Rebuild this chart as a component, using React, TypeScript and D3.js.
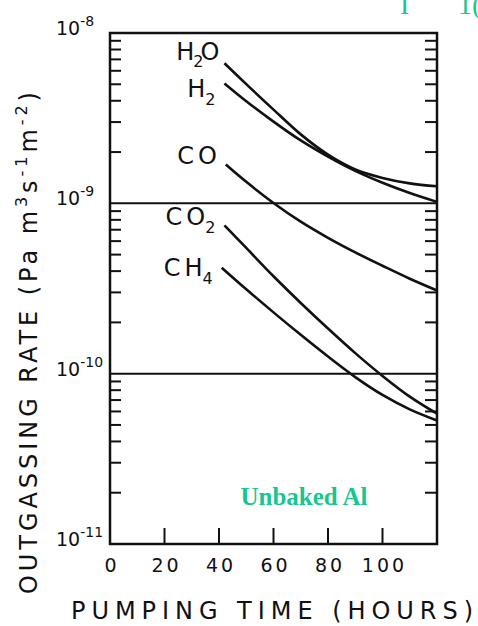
import * as d3 from 'd3';

// hours of pumping / outgassing rate (Pa m3 s-1 m-2)
const h2oHours = [42, 50, 60, 70, 80, 90, 100, 110, 120];
const h2oRate = [6.64e-9, 5.01e-9, 3.55e-9, 2.54e-9, 1.93e-9, 1.58e-9, 1.41e-9, 1.31e-9, 1.26e-9];
const h2Hours = [42, 50, 60, 70, 80, 90, 100, 110, 120];
const h2Rate = [5.06e-9, 3.98e-9, 3.02e-9, 2.34e-9, 1.88e-9, 1.55e-9, 1.32e-9, 1.15e-9, 1.02e-9];
const coHours = [42.5, 50, 60, 70, 80, 90, 100, 110, 120];
const coRate = [1.69e-9, 1.337e-9, 1.005e-9, 7.8e-10, 6.27e-10, 5.15e-10, 4.3e-10, 3.61e-10, 3.08e-10];
const co2Hours = [42, 50, 60, 70, 80, 90, 100, 110, 120];
const co2Rate = [7.43e-10, 5.47e-10, 3.73e-10, 2.6e-10, 1.84e-10, 1.32e-10, 9.7e-11, 7.33e-11, 5.82e-11];
const ch4Hours = [41, 50, 60, 70, 80, 90, 100, 110, 120];
const ch4Rate = [4.19e-10, 3.13e-10, 2.29e-10, 1.69e-10, 1.26e-10, 9.55e-11, 7.5e-11, 6.17e-11, 5.31e-11];

const xTicks = [20, 40, 60, 80, 100];
const xTickLabels = ['0', '20', '40', '60', '80', '100'];
const decades = [-8, -9, -10, -11];

const W = 478;
const H = 626;
const X0 = 110;
const X1 = 437;
const Y0 = 33;
const Y1 = 544;
const INK = '#111';
const GREEN = '#17c78f';
const FONT = 'DejaVu Sans, sans-serif';

const x = d3.scaleLinear().domain([0, 120]).range([X0, X1]);
const y = d3.scaleLog().domain([1e-11, 1e-8]).range([Y1, Y0]);

const series = [
  { key: 'H2O', hours: h2oHours, rate: h2oRate, dy: -3 },
  { key: 'H2', hours: h2Hours, rate: h2Rate, dy: 14 },
  { key: 'CO', hours: coHours, rate: coRate, dy: -1 },
  { key: 'CO2', hours: co2Hours, rate: co2Rate, dy: 0 },
  { key: 'CH4', hours: ch4Hours, rate: ch4Rate, dy: 8 },
];

const line = d3
  .line<[number, number]>()
  .x((d) => x(d[0]))
  .y((d) => y(d[1]))
  .curve(d3.curveCatmullRom.alpha(0.5));

function Label({ k, px, py }: { k: string; px: number; py: number }) {
  const common = { fontFamily: FONT, fill: INK, fontSize: 24, textAnchor: 'end' as const };
  if (k === 'H2O') {
    return (
      <text x={px} y={py} {...common}>
        H<tspan fontSize={16} dx={-1} dy={7}>2</tspan>
        <tspan dx={-3} dy={-7}>O</tspan>
      </text>
    );
  }
  const base = k.replace(/\d/, '');
  const sub = k.match(/\d/)?.[0];
  return (
    <text x={px} y={py} {...common} letterSpacing={4}>
      {base}
      {sub && (
        <tspan fontSize={16} dx={-4} dy={8}>
          {sub}
        </tspan>
      )}
    </text>
  );
}

export default function App() {
  const minor: number[] = [];
  for (const d of [-9, -10, -11]) {
    for (let k = 2; k <= 9; k++) minor.push(k * Math.pow(10, d));
  }

  return (
    <svg
      width={W}
      height={H}
      style={{ position: 'absolute', left: 0, top: 0, background: '#fff' }}
    >
      <rect width={W} height={H} fill="#fff" />

      {/* clipped caption at top right */}
      <text x={400} y={14} fontFamily="Liberation Serif, serif" fontSize={28} fill={GREEN}>I</text>
      <text x={458} y={14} fontFamily="Liberation Serif, serif" fontSize={28} fill={GREEN}>1(</text>

      {/* frame */}
      <rect x={X0} y={Y0} width={X1 - X0} height={Y1 - Y0} fill="none" stroke={INK} strokeWidth={2.5} />

      {/* decade lines */}
      {[1e-9, 1e-10].map((v) => (
        <line key={v} x1={X0} x2={X1} y1={y(v)} y2={y(v)} stroke={INK} strokeWidth={2} />
      ))}

      {/* minor ticks, both sides, inward */}
      {minor.map((v) => (
        <g key={v} stroke={INK} strokeWidth={2}>
          <line x1={X0} x2={X0 + 11} y1={y(v)} y2={y(v)} />
          <line x1={X1} x2={X1 - 12} y1={y(v)} y2={y(v)} />
        </g>
      ))}

      {/* x ticks */}
      {xTicks.map((t) => (
        <line key={t} x1={x(t)} x2={x(t)} y1={Y1} y2={Y1 - 16} stroke={INK} strokeWidth={2} />
      ))}

      {/* x tick labels */}
      {xTickLabels.map((t) => (
        <text
          key={t}
          x={x(+t) + 2}
          y={572}
          fontFamily={FONT}
          fontSize={19}
          letterSpacing={3}
          textAnchor="middle"
          fill={INK}
        >
          {t}
        </text>
      ))}

      {/* y decade labels */}
      {decades.map((d) => (
        <text key={d} x={56} y={y(Math.pow(10, d)) + 2} fontFamily={FONT} fontSize={19} fill={INK}>
          10
          <tspan fontSize={14} dy={-9}>
            {'-' + String(-d)}
          </tspan>
        </text>
      ))}

      {/* curves */}
      {series.map((s) => {
        const pts = s.hours.map((h, i) => [h, s.rate[i]] as [number, number]);
        return (
          <path key={s.key} d={line(pts) ?? ''} fill="none" stroke={INK} strokeWidth={2.6} />
        );
      })}

      {/* curve labels */}
      {series.map((s) => (
        <Label key={s.key} k={s.key} px={x(s.hours[0]) - 5} py={y(s.rate[0]) + s.dy} />
      ))}

      {/* annotation */}
      <text
        x={304}
        y={505}
        textAnchor="middle"
        fontFamily="Liberation Serif, serif"
        fontWeight="bold"
        fontSize={25}
        fill={GREEN}
      >
        Unbaked Al
      </text>

      {/* axis titles */}
      <text
        x={71}
        y={619}
        fontFamily={FONT}
        fontSize={24}
        fill={INK}
        textLength={402}
        lengthAdjust="spacing"
      >
        PUMPING TIME (HOURS)
      </text>

      <text
        transform="translate(37,594) rotate(-90)"
        fontFamily={FONT}
        fontSize={24}
        fill={INK}
        textLength={502}
        lengthAdjust="spacing"
      >
        OUTGASSING RATE (Pa m<tspan fontSize={16} dy={-10}>3</tspan>
        <tspan dy={10}>s</tspan>
        <tspan fontSize={16} dy={-10}>-1</tspan>
        <tspan dy={10}>m</tspan>
        <tspan fontSize={16} dy={-10}>-2</tspan>
        <tspan dy={10}>)</tspan>
      </text>
    </svg>
  );
}
